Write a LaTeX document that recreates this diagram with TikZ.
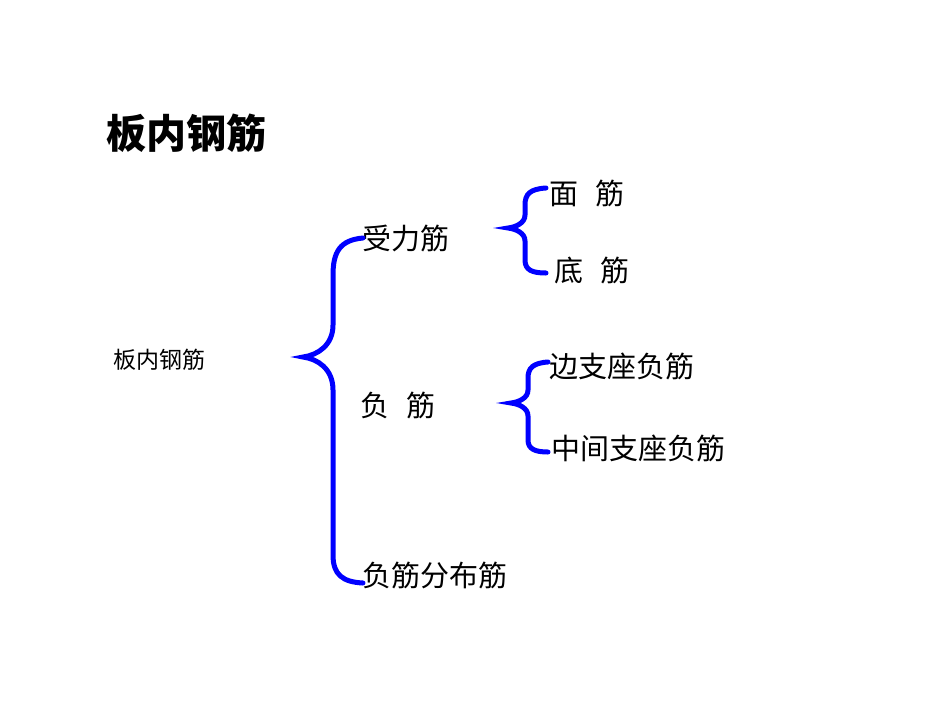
\documentclass[tikz,border=0pt]{standalone}
\usepackage{fontspec}
\newfontfamily\cjk{Noto Sans CJK SC}
\begin{document}
\begin{tikzpicture}[x=1pt,y=-1pt,
  lbl/.style={anchor=west,inner sep=0pt,font=\cjk\fontsize{29}{30}\selectfont},
  br/.style={draw={rgb,255:red,0;green,0;blue,255},line width=5pt,line cap=round}]
\useasboundingbox (0,0) rectangle (950,713);
\node[anchor=west,inner sep=0pt,font=\cjk\bfseries\fontsize{40}{42}\selectfont] (title) at (106,133) {板内钢筋};
\node[anchor=west,inner sep=0pt,font=\cjk\fontsize{23}{24}\selectfont] (root) at (113,360) {板内钢筋};
\node[lbl] (a) at (362,238) {受力筋};
\node[lbl] (b) at (360,405) {负\hspace{0.6em}筋};
\node[lbl] (c) at (362,575) {负筋分布筋};
\node[lbl] (a1) at (549,193) {面\hspace{0.6em}筋};
\node[lbl] (a2) at (554,270) {底\hspace{0.6em}筋};
\node[lbl] (b1) at (549,366) {边支座负筋};
\node[lbl] (b2) at (551,448) {中间支座负筋};
% big brace
\draw[br] (363,238) .. controls (340,240) and (333,252) .. (333,275) -- (333,325)
  .. controls (333,345) and (318,355) .. (303,357)
  .. controls (318,359) and (333,369) .. (333,390) -- (333,555)
  .. controls (333,575) and (343,582) .. (363,583);
% small brace 1
\draw[br] (546,188) .. controls (530,189) and (525,194) .. (525,205) -- (525,215)
  .. controls (525,223) and (516,227) .. (508,228)
  .. controls (516,229) and (525,233) .. (525,241) -- (525,260)
  .. controls (525,270) and (532,273) .. (546,273);
% small brace 2
\draw[br] (548,362) .. controls (533,363) and (528,368) .. (528,378) -- (528,390)
  .. controls (528,398) and (519,402) .. (511,403)
  .. controls (519,404) and (528,408) .. (528,416) -- (528,440)
  .. controls (528,449) and (535,452) .. (548,452);
\end{tikzpicture}
\end{document}
